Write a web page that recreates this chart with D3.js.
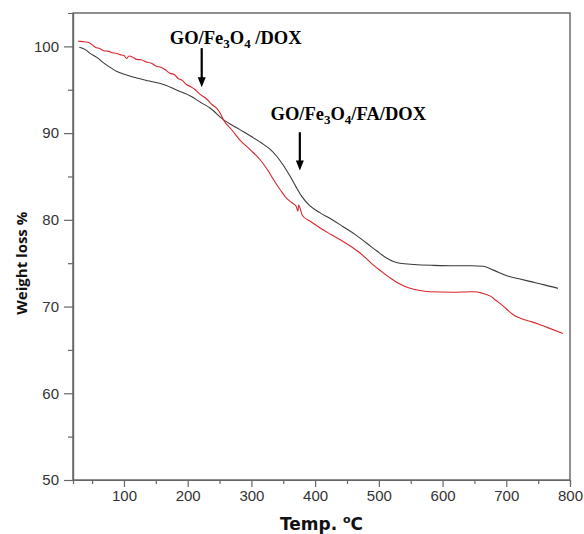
<!DOCTYPE html>
<html>
<head>
<meta charset="utf-8">
<script src="https://cdn.jsdelivr.net/npm/d3@7"></script>
<style>
  body { margin: 0; background: #fff; }
  .axis text { font-family: "Liberation Sans", Arial, sans-serif; font-size: 15px; fill: #333; }
  .axis path, .axis line { stroke: #666; stroke-width: 1.2; }
  .line { fill: none; stroke-width: 1.1; }
</style>
</head>
<body>
<div id="tga_graph"></div>
<script>
// GO/Fe3O4/FA/DOX (black)
var temp_fa = [30, 40, 47, 58, 68, 79, 89, 104, 120, 140, 162, 188, 205, 219, 235, 256, 282, 300, 319, 330, 340, 350, 361, 370, 379, 392, 408, 425, 444, 463, 481, 497, 512, 523, 533, 555, 586, 620, 645, 664, 680, 701, 720, 737, 760, 781];
var weight_fa = [99.9, 99.6, 99.2, 98.7, 98.1, 97.55, 97.1, 96.7, 96.35, 96.0, 95.6, 94.8, 94.25, 93.6, 92.9, 91.55, 90.4, 89.6, 88.7, 88.1, 87.3, 86.3, 85.0, 83.8, 82.7, 81.6, 80.8, 80.1, 79.2, 78.3, 77.3, 76.4, 75.6, 75.2, 75.0, 74.85, 74.75, 74.7, 74.7, 74.65, 74.2, 73.55, 73.2, 72.9, 72.5, 72.1];

// GO/Fe3O4/DOX (red)
var temp_dox = [28, 35, 42, 50, 55, 62, 68, 75, 80, 88, 94, 100, 104, 108, 114, 120, 127, 135, 143, 151, 158, 165, 172, 179, 185, 192, 198, 205, 212, 218, 225, 231, 238, 245, 251, 256, 270, 282, 298, 314, 325, 335, 345, 355, 363, 370, 373, 374, 380, 393, 408, 425, 444, 457, 470, 481, 491, 505, 518, 533, 549, 565, 580, 615, 648, 662, 675, 684, 693, 702, 711, 724, 737, 750, 764, 789];
var weight_dox = [100.6, 100.55, 100.5, 100.2, 99.9, 99.75, 99.5, 99.45, 99.3, 99.2, 99.05, 98.95, 98.6, 98.9, 98.75, 98.5, 98.45, 98.2, 98.05, 97.7, 97.6, 97.3, 96.9, 96.75, 96.3, 96.05, 95.6, 95.35, 95.0, 94.55, 94.2, 93.85, 93.3, 92.9, 92.3, 91.55, 90.3, 89.2, 88.1, 86.9, 85.8, 84.6, 83.5, 82.5, 82.0, 81.6, 81.0, 81.7, 80.5, 79.8, 79.05, 78.3, 77.5, 76.9, 76.2, 75.5, 74.8, 74.0, 73.3, 72.6, 72.1, 71.85, 71.7, 71.65, 71.7, 71.55, 71.2, 70.7, 70.2, 69.6, 69.05, 68.6, 68.3, 68.0, 67.6, 66.9];

var x_ticks = [100, 200, 300, 400, 500, 600, 700, 800];
var x_minor = [50, 150, 250, 350, 450, 550, 650, 750];
var y_ticks = [50, 60, 70, 80, 90, 100];
var y_minor = [55, 65, 75, 85, 95];

// annotations: label parts [text, subscript], text position, arrow position
var notes = [
    {parts: [["GO/Fe", 0], ["3", 1], ["O", 0], ["4", 1], [" /DOX", 0]], tx: 172, tw: 100.27, ax: 222, a1: 99.8, a2: 95.3},
    {parts: [["GO/Fe", 0], ["3", 1], ["O", 0], ["4", 1], ["/FA/DOX", 0]], tx: 330, tw: 91.5, ax: 376, a1: 90.1, a2: 85.7}
];

var width = 584, height = 534;

var x = d3.scaleLinear().domain([20, 800]).range([73, 570]);
var y = d3.scaleLinear().domain([50, 103.85]).range([480, 13]);

var svg = d3.select("#tga_graph")
    .append("svg")
    .attr("width", width)
    .attr("height", height);

// frame (top + right)
svg.append("rect")
    .attr("x", x(20))
    .attr("y", y(103.85))
    .attr("width", x(800) - x(20))
    .attr("height", y(50) - y(103.85))
    .attr("fill", "none")
    .attr("stroke", "#555")
    .attr("stroke-width", 1.3);

// minor ticks
svg.append("g")
    .attr("class", "axis")
    .attr("transform", "translate(0," + y(50) + ")")
    .call(d3.axisBottom(x).tickValues(x_minor).tickSize(4).tickFormat(""));
svg.append("g")
    .attr("class", "axis")
    .attr("transform", "translate(" + x(20) + ",0)")
    .call(d3.axisLeft(y).tickValues(y_minor).tickSize(5).tickFormat(""));

// Add the X Axis
svg.append("g")
    .attr("class", "axis")
    .attr("transform", "translate(0," + y(50) + ")")
    .call(d3.axisBottom(x).tickValues(x_ticks).tickSize(7).tickSizeOuter(0).tickPadding(3));

// Add the Y Axis
svg.append("g")
    .attr("class", "axis")
    .attr("transform", "translate(" + x(20) + ",0)")
    .call(d3.axisLeft(y).tickValues(y_ticks).tickSize(9).tickSizeOuter(0).tickPadding(5));

var line = d3.line()
    .curve(d3.curveMonotoneX)
    .x(function(d) { return x(d[0]); })
    .y(function(d) { return y(d[1]); });

svg.append("path")
    .attr("class", "line")
    .attr("stroke", "#3a3a3a")
    .attr("d", line(d3.zip(temp_fa, weight_fa)));

svg.append("path")
    .attr("class", "line")
    .attr("stroke", "#d8262b")
    .attr("d", line(d3.zip(temp_dox, weight_dox)));

// annotations
notes.forEach(function(n) {
    var t = svg.append("text")
        .attr("x", x(n.tx))
        .attr("y", y(n.tw))
        .style("font-family", "'Liberation Serif', 'Times New Roman', serif")
        .style("font-weight", "bold")
        .style("font-size", "18.5px");
    n.parts.forEach(function(p, i) {
        t.append("tspan")
            .attr("dy", p[1] ? 4 : (i > 0 ? -4 : 0))
            .style("font-size", p[1] ? "13px" : "18.5px")
            .text(p[0]);
    });
    svg.append("line")
        .attr("x1", x(n.ax)).attr("x2", x(n.ax))
        .attr("y1", y(n.a1)).attr("y2", y(n.a2) - 8)
        .attr("stroke", "#000")
        .attr("stroke-width", 2.2);
    svg.append("path")
        .attr("d", "M" + (x(n.ax) - 4) + "," + (y(n.a2) - 10) + " L" + (x(n.ax) + 4) + "," + (y(n.a2) - 10) + " L" + x(n.ax) + "," + y(n.a2) + "Z")
        .attr("fill", "#000");
});

// axis titles
var xt = svg.append("text")
    .attr("x", (x(20) + x(800)) / 2)
    .attr("y", 530)
    .attr("text-anchor", "middle")
    .style("font-family", "'DejaVu Sans', Verdana, sans-serif")
    .style("font-weight", "bold")
    .style("font-size", "17px")
    .style("fill", "#111");
xt.append("tspan").text("Temp. ");
xt.append("tspan").attr("dy", -7).style("font-size", "11px").text("o");
xt.append("tspan").attr("dy", 7).text("C");

svg.append("text")
    .attr("transform", "translate(27," + y(75) + ") rotate(-90)")
    .attr("text-anchor", "middle")
    .style("font-family", "'Open Sans', sans-serif")
    .style("font-weight", "bold")
    .style("font-size", "15px")
    .style("fill", "#111")
    .text("Weight loss %");
</script>
</body>
</html>
